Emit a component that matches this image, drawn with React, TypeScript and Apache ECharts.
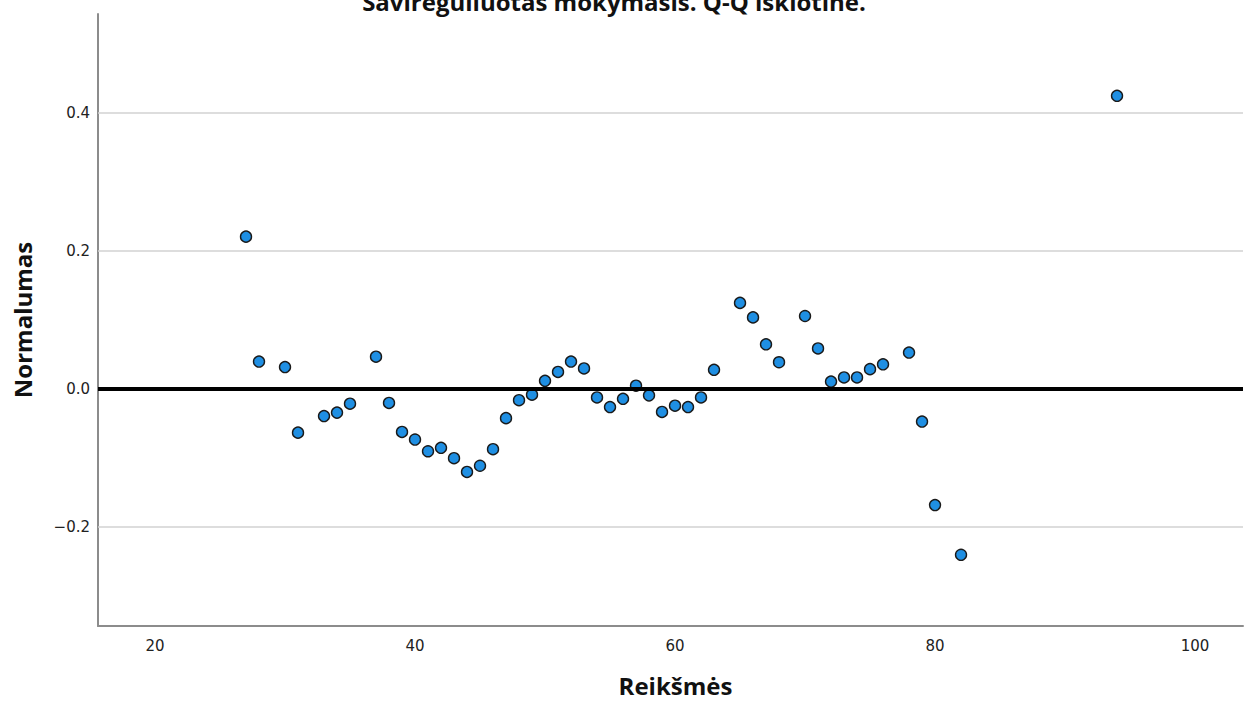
import React, { useEffect, useRef } from "react";
import * as echarts from "echarts";

// Observed values (x) and their detrended normal deviations (y)
const reiksmes: number[] = [
  27, 28, 30, 31, 33, 34, 35, 37, 38, 39, 40, 41, 42, 43, 44, 45, 46, 47, 48, 49,
  50, 51, 52, 53, 54, 55, 56, 57, 58, 59, 60, 61, 62, 63, 65, 66, 67, 68, 70, 71,
  72, 73, 74, 75, 76, 78, 79, 80, 82, 94,
];
const normalumas: number[] = [
  0.221, 0.040, 0.032, -0.063, -0.039, -0.034, -0.021, 0.047, -0.020, -0.062,
  -0.073, -0.090, -0.085, -0.100, -0.120, -0.111, -0.087, -0.042, -0.016, -0.008,
  0.012, 0.025, 0.040, 0.030, -0.012, -0.026, -0.014, 0.005, -0.009, -0.033,
  -0.024, -0.026, -0.012, 0.028, 0.125, 0.104, 0.065, 0.039, 0.106, 0.059,
  0.011, 0.017, 0.017, 0.029, 0.036, 0.053, -0.047, -0.168, -0.240, 0.425,
];

const xTicks: number[] = [20, 40, 60, 80, 100];
const yTicks: number[] = [-0.2, 0, 0.2, 0.4];
const yGridLines: number[] = [-0.2, 0.2, 0.4];

const titleText = "Savireguliuotas mokymasis. Q-Q išklotinė.";
const xName = "Reikšmės";
const yName = "Normalumas";

export default function App() {
  const ref = useRef<HTMLDivElement>(null);

  useEffect(() => {
    if (!ref.current) return;
    const chart = echarts.init(ref.current, null, { renderer: "svg" });
    const points = reiksmes.map((x, i) => [x, normalumas[i]]);

    chart.setOption({
      animation: false,
      backgroundColor: "#ffffff",
      grid: { left: 98, right: 1, top: 14, bottom: 73 },
      xAxis: {
        type: "value",
        min: 15.615,
        max: 103.69,
        name: xName,
        nameLocation: "middle",
        nameGap: 47,
        nameTextStyle: {
          fontFamily: "Open Sans",
          fontWeight: "bold",
          fontSize: 24,
          color: "#111",
          padding: [0, 0, 0, 10],
        },
        axisLine: { show: true, onZero: false, lineStyle: { color: "#8c8c8c", width: 2 } },
        axisTick: { show: false },
        splitLine: { show: false },
        axisLabel: {
          customValues: xTicks,
          margin: 12,
          fontFamily: "DejaVu Sans",
          fontSize: 15,
          color: "#222",
        },
      },
      yAxis: {
        type: "value",
        min: -0.3432,
        max: 0.5436,
        name: yName,
        nameLocation: "middle",
        nameGap: 64,
        nameTextStyle: {
          fontFamily: "Open Sans",
          fontWeight: "bold",
          fontSize: 24,
          color: "#111",
        },
        axisLine: { show: true, onZero: false, lineStyle: { color: "#8c8c8c", width: 2 } },
        axisTick: { show: false },
        splitLine: { show: false },
        axisLabel: {
          customValues: yTicks,
          margin: 8,
          fontFamily: "DejaVu Sans",
          fontSize: 15,
          color: "#222",
          formatter: (v: number) =>
            v < 0 ? "\u2212" + Math.abs(v).toFixed(1) : v.toFixed(1),
        },
      },
      graphic: [
        {
          type: "text",
          x: 614,
          y: 13,
          silent: true,
          style: {
            text: titleText,
            fontFamily: "Open Sans",
            fontWeight: "bold",
            fontSize: 24,
            fill: "#111",
            align: "center",
            verticalAlign: "bottom",
          },
        },
      ],
      series: [
        {
          // reference lines: light grid and the heavy zero line
          type: "line",
          data: [],
          silent: true,
          z: 1,
          markLine: {
            silent: true,
            symbol: "none",
            label: { show: false },
            data: [
              ...yGridLines.map((v) => ({
                yAxis: v,
                lineStyle: { color: "#d2d2d2", width: 1.5, type: "solid" },
              })),
              { yAxis: 0, lineStyle: { color: "#000", width: 4, type: "solid" } },
            ],
          },
        },
        {
          type: "scatter",
          z: 3,
          data: points,
          symbol: "circle",
          symbolSize: 11,
          itemStyle: {
            color: "#1f8fe3",
            borderColor: "#1a1a1a",
            borderWidth: 1.4,
            opacity: 1,
          },
        },
      ],
    });

    return () => chart.dispose();
  }, []);

  return (
    <div
      ref={ref}
      style={{ position: "absolute", left: 0, top: 0, width: 1244, height: 702 }}
    />
  );
}
